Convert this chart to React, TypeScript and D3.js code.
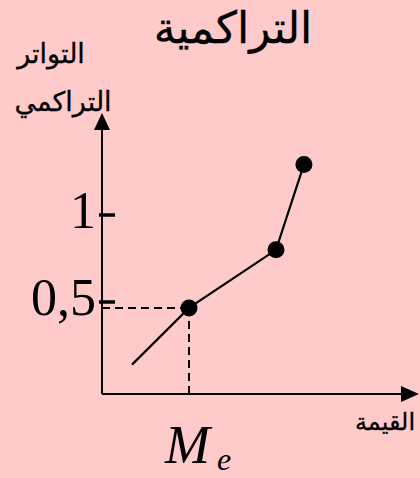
import React from "react";
import * as d3 from "d3";

const xValues = [1.0, 2.9, 5.8, 6.73];
const yValues = [0.14, 0.466, 0.8, 1.29];
const markedIdx = [1, 2, 3];
const yTicks = [1, 0.5];
const yTickLabels = ["1", "0,5"];
const medianX = 2.9;
const medianY = 0.466;

const W = 420;
const H = 478;
const bg = "rgb(255,202,202)";

export default function App() {
  const x = d3.scaleLinear().domain([0, 10]).range([102, 402]);
  const y = d3.scaleLinear().domain([0, 1]).range([389, 215]);
  const axisY = 394;
  const axisX = x(0);

  const pts = xValues.map((v, i) => [x(v), y(yValues[i])] as [number, number]);
  const line = d3.line<[number, number]>()(pts) || "";

  const serif = "'Liberation Serif', 'DejaVu Serif', serif";
  const arab = "'DejaVu Sans', sans-serif";
  const arabStroke = { stroke: "#000", strokeWidth: 0.3 };

  return (
    <svg
      width={W}
      height={H}
      style={{ position: "absolute", left: 0, top: 0, display: "block" }}
    >
      <rect width={W} height={H} fill={bg} />
      {/* title */}
      <text x={233} y={43} fontFamily={arab} fontSize={44} textAnchor="middle" fill="#000" {...arabStroke}>
        التراكمية
      </text>
      {/* y-axis label */}
      <text x={51} y={63} fontFamily={arab} fontSize={27} textAnchor="middle" fill="#000" {...arabStroke}>
        التواتر
      </text>
      <text x={63} y={111} fontFamily={arab} fontSize={27} textAnchor="middle" fill="#000" {...arabStroke}>
        التراكمي
      </text>
      {/* x-axis label */}
      <text x={385} y={430} fontFamily={arab} fontSize={24} textAnchor="middle" fill="#000" {...arabStroke}>
        القيمة
      </text>

      {/* axes */}
      <line x1={axisX} y1={axisY} x2={404} y2={axisY} stroke="#000" strokeWidth={2} />
      <line x1={axisX} y1={axisY} x2={axisX} y2={128} stroke="#000" strokeWidth={2} />
      <path d={`M${axisX},113 L${axisX - 8},130 L${axisX + 8},130 Z`} fill="#000" />
      <path d={`M419,${axisY} L401,${axisY - 8} L401,${axisY + 8} Z`} fill="#000" />

      {/* y ticks */}
      {yTicks.map((t, i) => (
        <g key={t}>
          <line x1={axisX - 3} x2={axisX + 13} y1={y(t)} y2={y(t)} stroke="#000" strokeWidth={3.5} />
          <text
            x={axisX - 6}
            y={y(t) + 13}
            fontFamily={serif}
            fontSize={52}
            textAnchor="end"
            fill="#000"
          >
            {yTickLabels[i]}
          </text>
        </g>
      ))}

      {/* median guides */}
      <line
        x1={axisX}
        x2={x(medianX)}
        y1={y(medianY)}
        y2={y(medianY)}
        stroke="#000"
        strokeWidth={2}
        strokeDasharray="8,5"
      />
      <line
        x1={x(medianX)}
        x2={x(medianX)}
        y1={y(medianY)}
        y2={axisY}
        stroke="#000"
        strokeWidth={2}
        strokeDasharray="8,5"
      />

      {/* polygon */}
      <path d={line} fill="none" stroke="#000" strokeWidth={2.2} />
      {markedIdx.map((i) => (
        <circle key={i} cx={pts[i][0]} cy={pts[i][1]} r={8.5} fill="#000" />
      ))}

      {/* median label */}
      <text x={165} y={463} fontFamily={serif} fontStyle="italic" fontSize={54} fill="#000">
        M
      </text>
      <text x={217} y={470} fontFamily={serif} fontStyle="italic" fontSize={32} fill="#000">
        e
      </text>
    </svg>
  );
}
